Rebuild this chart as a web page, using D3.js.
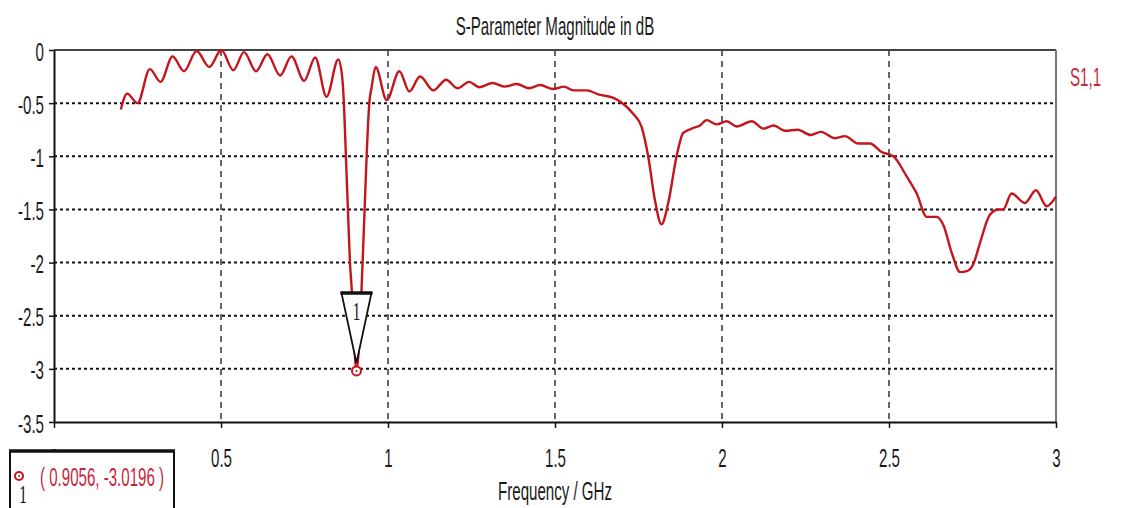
<!DOCTYPE html>
<html>
<head>
<meta charset="utf-8">
<script src="https://cdn.jsdelivr.net/npm/d3@7"></script>
<style>
  html, body { margin: 0; padding: 0; background: #ffffff; }
  svg { display: block; }
</style>
</head>
<body>
<svg id="chart" width="1131" height="508"></svg>
<script>
// S11 magnitude sweep (GHz, dB)
const freqGHz = [
  0.200, 0.219, 0.250, 0.287, 0.319, 0.355, 0.389, 0.427, 0.465, 0.501,
  0.537, 0.569, 0.605, 0.639, 0.677, 0.711, 0.749, 0.782, 0.816, 0.851,
  0.862, 0.868, 0.874, 0.880, 0.886, 0.891, 0.9056, 0.921, 0.924, 0.930,
  0.936, 0.944, 0.951, 0.963, 0.996, 1.034, 1.064, 1.096, 1.136, 1.174,
  1.208, 1.243, 1.273, 1.313, 1.350, 1.385, 1.423, 1.455, 1.495, 1.527,
  1.555, 1.595, 1.632, 1.675, 1.697, 1.734, 1.759, 1.779, 1.799, 1.819,
  1.839, 1.864, 1.884, 1.909, 1.934, 1.954, 1.984, 2.014, 2.044, 2.089,
  2.124, 2.154, 2.189, 2.226, 2.266, 2.296, 2.338, 2.368, 2.408, 2.443,
  2.478, 2.513, 2.553, 2.583, 2.613, 2.643, 2.663, 2.688, 2.713, 2.733,
  2.753, 2.772, 2.802, 2.827, 2.842, 2.867, 2.907, 2.940, 2.972, 3.000
];
const s11dB = [
  -0.56, -0.41, -0.50, -0.18, -0.30, -0.06, -0.20, -0.01, -0.16, 0.00,
  -0.19, -0.02, -0.20, -0.04, -0.24, -0.06, -0.29, -0.07, -0.44, -0.09,
  -0.23, -0.50, -1.00, -1.50, -1.99, -2.23, -3.0196, -2.23, -1.99, -1.50,
  -1.00, -0.50, -0.35, -0.16, -0.47, -0.20, -0.39, -0.25, -0.38, -0.28,
  -0.36, -0.30, -0.35, -0.31, -0.345, -0.32, -0.36, -0.33, -0.367, -0.345,
  -0.38, -0.38, -0.42, -0.45, -0.49, -0.60, -0.72, -1.00, -1.41, -1.64,
  -1.44, -1.00, -0.78, -0.74, -0.71, -0.66, -0.70, -0.67, -0.72, -0.67,
  -0.74, -0.71, -0.76, -0.75, -0.80, -0.77, -0.83, -0.81, -0.88, -0.88,
  -0.96, -1.00, -1.19, -1.35, -1.57, -1.57, -1.65, -1.91, -2.09, -2.08,
  -2.01, -1.82, -1.55, -1.50, -1.50, -1.35, -1.44, -1.32, -1.47, -1.38
];

const xTicks = [0, 0.5, 1, 1.5, 2, 2.5, 3];
const yTicks = [0, -0.5, -1, -1.5, -2, -2.5, -3, -3.5];

const seriesName = "S1,1";
const chartTitle = "S-Parameter Magnitude in dB";
const xTitle = "Frequency / GHz";

// Marker 1
const markerId = "1";
const markerFreq = 0.9056;
const markerDb = -3.0196;

const svg = d3.select("#chart");
const plot = { left: 54, right: 1056, top: 50, bottom: 422 };

const x = d3.scaleLinear().domain([0, 3]).range([plot.left, plot.right]);
const y = d3.scaleLinear().domain([-3.5, 0]).range([plot.bottom, plot.top]);

const FONT = "'Liberation Sans', Arial, sans-serif";
const FS = 26;
const SX = 0.58;

function label(g, px, py, str, anchor, color, family) {
  return g.append("text")
    .attr("transform", `translate(${px},${py}) scale(${SX},1)`)
    .attr("text-anchor", anchor)
    .attr("font-family", family || FONT)
    .attr("font-size", FS)
    .attr("fill", color || "#1a1a1a")
    .text(str);
}

// Grid
const grid = svg.append("g");
grid.selectAll("line.h")
  .data(yTicks.filter(v => v > -3.5 && v < 0))
  .join("line")
  .attr("x1", plot.left).attr("x2", plot.right)
  .attr("y1", d => y(d)).attr("y2", d => y(d))
  .attr("stroke", "#111").attr("stroke-width", 2)
  .attr("stroke-dasharray", "3,3");
grid.selectAll("line.v")
  .data(xTicks.filter(v => v > 0 && v < 3))
  .join("line")
  .attr("x1", d => x(d)).attr("x2", d => x(d))
  .attr("y1", plot.top).attr("y2", plot.bottom)
  .attr("stroke", "#333").attr("stroke-width", 1.5)
  .attr("stroke-dasharray", "6,5");

// Frame (top and right)
svg.append("line")
  .attr("x1", plot.left).attr("x2", plot.right)
  .attr("y1", plot.top).attr("y2", plot.top)
  .attr("stroke", "#444").attr("stroke-width", 2);
svg.append("line")
  .attr("x1", plot.right).attr("x2", plot.right)
  .attr("y1", plot.top).attr("y2", plot.bottom)
  .attr("stroke", "#777").attr("stroke-width", 2);

// Axes
const xAxis = svg.append("g")
  .attr("transform", `translate(0,${plot.bottom})`)
  .call(d3.axisBottom(x).tickValues(xTicks).tickSize(6).tickSizeOuter(0).tickFormat(d => String(d)));
const yAxis = svg.append("g")
  .attr("transform", `translate(${plot.left},0)`)
  .call(d3.axisLeft(y).tickValues(yTicks).tickSize(5).tickSizeOuter(0).tickFormat(d => String(d)));

[xAxis, yAxis].forEach(a => {
  a.select(".domain").attr("stroke", "#111").attr("stroke-width", 2);
  a.selectAll(".tick line").attr("stroke", "#111").attr("stroke-width", 1.5);
  a.selectAll(".tick text")
    .attr("font-family", FONT).attr("font-size", FS).attr("fill", "#1a1a1a")
    .attr("x", null).attr("y", null).attr("dy", null);
});
xAxis.selectAll(".tick text")
  .attr("text-anchor", "middle")
  .attr("transform", `translate(0,45) scale(${SX},1)`);
yAxis.selectAll(".tick text")
  .attr("text-anchor", "end")
  .attr("transform", `translate(-10,10) scale(${SX},1)`);

// Curve
const pts = freqGHz.map((f, i) => [f, s11dB[i]]);
const line = d3.line().x(d => x(d[0])).y(d => y(d[1])).curve(d3.curveMonotoneX);
svg.append("path")
  .datum(pts)
  .attr("d", line)
  .attr("fill", "none")
  .attr("stroke", "#c4141c")
  .attr("stroke-width", 2.4)
  .attr("stroke-linejoin", "round");

// Marker flag
const mx = x(markerFreq), my = y(markerDb);
const mk = svg.append("g");
mk.append("path")
  .attr("d", `M${mx - 15},${my - 78} L${mx + 15},${my - 78} L${mx},${my - 8} Z`)
  .attr("fill", "#fff").attr("stroke", "#111").attr("stroke-width", 1.8)
  .attr("stroke-linejoin", "miter");
mk.append("line")
  .attr("x1", mx - 16).attr("x2", mx + 16)
  .attr("y1", my - 78).attr("y2", my - 78)
  .attr("stroke", "#111").attr("stroke-width", 3.5);
label(mk, mx, my - 51, markerId, "middle", "#111", "'Liberation Serif', serif");
mk.append("circle").attr("cx", mx).attr("cy", my).attr("r", 4.5)
  .attr("fill", "#fff").attr("stroke", "#c4141c").attr("stroke-width", 2);
mk.append("circle").attr("cx", mx).attr("cy", my).attr("r", 1)
  .attr("fill", "#c4141c");

// Title, axis title, legend
label(svg, 555, 35, chartTitle, "middle");
label(svg, 555, 500, xTitle, "middle");
label(svg, 1070, 86, seriesName, "start", "#c8283c");

// Marker readout box
const box = svg.append("g");
box.append("rect")
  .attr("x", 10).attr("y", 451).attr("width", 164).attr("height", 70)
  .attr("fill", "#fff").attr("stroke", "#111").attr("stroke-width", 2);
box.append("line").attr("x1", 9).attr("x2", 175).attr("y1", 451).attr("y2", 451)
  .attr("stroke", "#111").attr("stroke-width", 3.5);
box.append("circle").attr("cx", 19).attr("cy", 476).attr("r", 4)
  .attr("fill", "#fff").attr("stroke", "#c4141c").attr("stroke-width", 2);
box.append("circle").attr("cx", 19).attr("cy", 476).attr("r", 1).attr("fill", "#c4141c");
label(box, 40, 486, `( ${markerFreq}, ${markerDb} )`, "start", "#c8283c");
label(box, 23, 503, markerId, "middle", "#111", "'Liberation Serif', serif");
</script>
</body>
</html>
